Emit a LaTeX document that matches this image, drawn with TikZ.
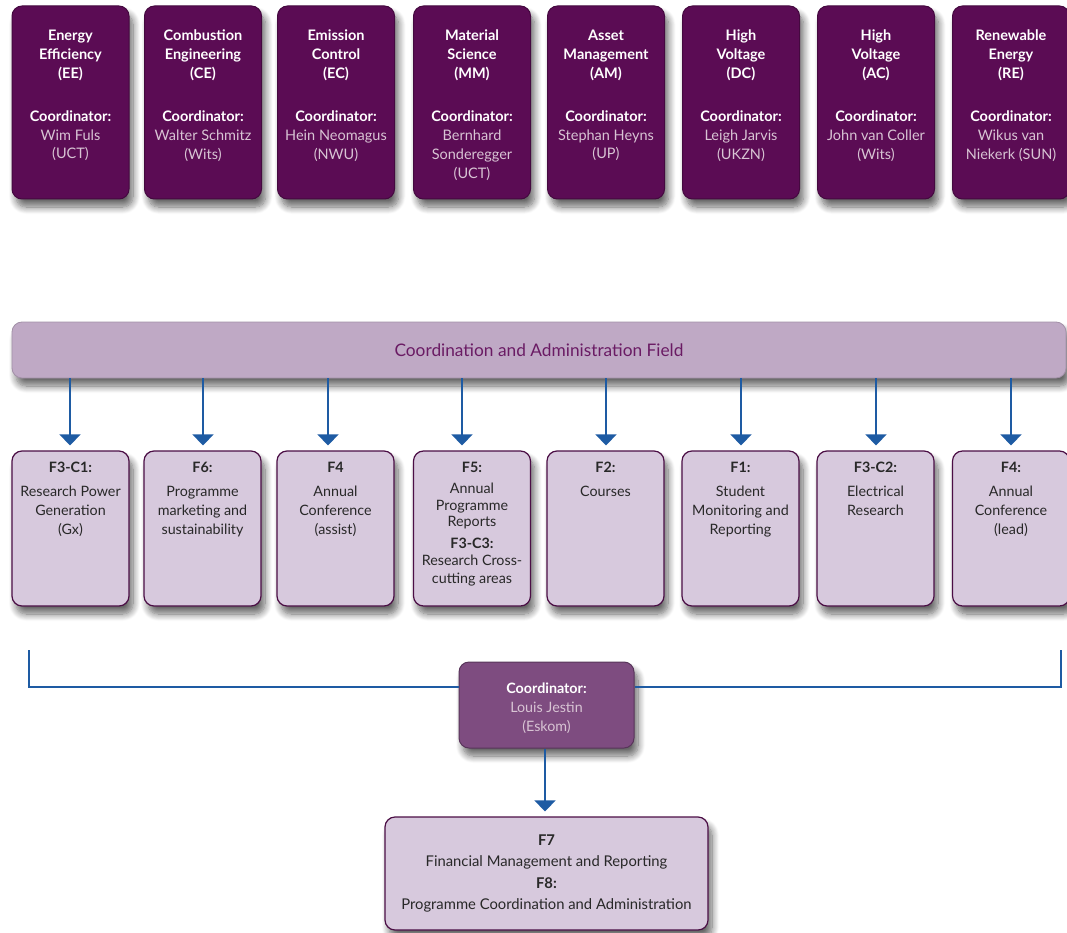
\documentclass[tikz,border=0pt]{standalone}
\usepackage{fontspec}
\setmainfont{Lato}
\usetikzlibrary{arrows.meta,shadows,shadows.blur}
\definecolor{topfill}{RGB}{91,12,84}
\definecolor{topname}{RGB}{216,196,212}
\definecolor{barfill}{RGB}{191,169,197}
\definecolor{midfill}{RGB}{215,201,221}
\definecolor{midborder}{RGB}{75,14,69}
\definecolor{coordfill}{RGB}{126,76,128}
\definecolor{arrowblue}{RGB}{30,91,163}
\definecolor{bartext}{RGB}{106,27,100}
\definecolor{midtext}{RGB}{40,40,40}
\newcommand\tbx[2]{\parbox[c][193pt][t]{117pt}{\vspace*{24pt}\centering\fontsize{14.5}{18.9}\selectfont
  \textbf{\color{white}#1}\\[24pt]\textbf{\color{white}Coordinator:}\\{\color{topname}#2}\par}}
\newcommand\mbx[2][\fontsize{14.3}{19}\selectfont]{\parbox[c][155pt][t]{117pt}{\vspace*{11pt}\centering#1\color{midtext}#2\par}}
\begin{document}
\begin{tikzpicture}[x=1pt,y=-1pt,
  shad/.style={blur shadow={shadow xshift=4pt,shadow yshift=-8pt,shadow blur steps=10,shadow blur radius=7pt,shadow opacity=60}},
  topbox/.style={shad,rounded corners=10pt,fill=topfill,draw=topfill!75!black,line width=1pt,inner sep=0pt,minimum width=117pt,minimum height=193pt},
  midbox/.style={shad,rounded corners=10pt,fill=midfill,draw=midborder,line width=1.2pt,inner sep=0pt,minimum width=117pt,minimum height=155pt},
  barbox/.style={shad,rounded corners=10pt,fill=barfill,draw=barfill!85!black,line width=.8pt,minimum width=1054pt,minimum height=56pt},
  coordbox/.style={shad,rounded corners=10pt,fill=coordfill,draw=coordfill!70!black,line width=1pt,minimum width=175pt,minimum height=86pt,align=center,font=\fontsize{14.3}{19}\selectfont},
  botbox/.style={shad,rounded corners=10pt,fill=midfill,draw=midborder,line width=1.2pt,minimum width=323pt,minimum height=113pt,align=center,font=\fontsize{14.8}{21.5}\selectfont,text=midtext},
  arr/.style={draw=arrowblue,line width=2pt,-{Triangle[width=21pt,length=11pt]},shorten >=5pt},
  link/.style={draw=arrowblue,line width=1.5pt}]
\useasboundingbox (0,0) rectangle (1067,933);
% top row
\node[topbox] (ee) at (70.5,102.5) {\tbx{Energy\\Efficiency\\(EE)}{Wim Fuls\\(UCT)}};
\node[topbox] (ce) at (203,102.5) {\tbx{Combustion\\Engineering\\(CE)}{Walter Schmitz\\(Wits)}};
\node[topbox] (ec) at (336,102.5) {\tbx{Emission\\Control\\(EC)}{Hein Neomagus\\(NWU)}};
\node[topbox] (mm) at (472,102.5) {\tbx{Material\\Science\\(MM)}{Bernhard\\Sonderegger\\(UCT)}};
\node[topbox] (am) at (606,102.5) {\tbx{Asset\\Management\\(AM)}{Stephan Heyns\\(UP)}};
\node[topbox] (dc) at (741,102.5) {\tbx{High\\Voltage\\(DC)}{Leigh Jarvis\\(UKZN)}};
\node[topbox] (ac) at (876,102.5) {\tbx{High\\Voltage\\(AC)}{John van Coller\\(Wits)}};
\node[topbox] (re) at (1011,102.5) {\tbx{Renewable\\Energy\\(RE)}{Wikus van\\Niekerk (SUN)}};
% bar
\node[barbox] (bar) at (539,350) {\fontsize{17.3}{20}\selectfont\color{bartext}Coordination and Administration Field};
% middle row
\node[midbox] (m1) at (70.5,528.5) {\mbx{\textbf{F3-C1:}\\[5pt]Research Power\\Generation\\(Gx)}};
\node[midbox] (m2) at (202.5,528.5) {\mbx{\textbf{F6:}\\[5pt]Programme\\marketing and\\sustainability}};
\node[midbox] (m3) at (335.5,528.5) {\mbx{\textbf{F4}\\[5pt]Annual\\Conference\\(assist)}};
\node[midbox] (m4) at (472,528.5) {\mbx[\fontsize{14.3}{16.5}\selectfont]{\textbf{F5:}\\[5pt]Annual\\Programme\\Reports\\[5.5pt]\textbf{F3-C3:}\\Research Cross-\\[2pt]cutting areas}};
\node[midbox] (m5) at (605.5,528.5) {\mbx{\textbf{F2:}\\[5pt]Courses}};
\node[midbox] (m6) at (740.5,528.5) {\mbx{\textbf{F1:}\\[5pt]Student\\Monitoring and\\Reporting}};
\node[midbox] (m7) at (875.5,528.5) {\mbx{\textbf{F3-C2:}\\[5pt]Electrical\\Research}};
\node[midbox] (m8) at (1011,528.5) {\mbx{\textbf{F4:}\\[5pt]Annual\\Conference\\(lead)}};
% arrows from bar
\coordinate (a1) at ([xshift=-0.5pt]m1.north);
\coordinate (a2) at ([xshift=0.5pt]m2.north);
\coordinate (a3) at ([xshift=-7.5pt]m3.north);
\coordinate (a4) at ([xshift=-10pt]m4.north);
\coordinate (a5) at ([xshift=0.5pt]m5.north);
\coordinate (a6) at ([xshift=0.5pt]m6.north);
\coordinate (a7) at ([xshift=0.5pt]m7.north);
\coordinate (a8) at ([xshift=0pt]m8.north);
\foreach \i in {1,...,8} {\draw[arr] (a\i |- bar.south) -- (a\i);}
% coordinator and bracket
\coordinate (bl) at (29,650);
\coordinate (br) at (1061,650);
\node[coordbox] (lj) at (546.5,705) {\rule{0pt}{18pt}\textbf{\color{white}Coordinator:}\\{\color{topname}Louis Jestin}\\{\color{topname}(Eskom)}};
\draw[link] (bl) |- ([yshift=18pt]lj.west);
\draw[link] (br) |- ([yshift=18pt]lj.east);
\node[botbox] (fin) at (546.5,873.5) {\textbf{F7}\\Financial Management and Reporting\\\textbf{F8:}\\Programme Coordination and Administration};
\draw[arr] ([xshift=-1.5pt]lj.south) -- ([xshift=-1.5pt]fin.north);
\end{tikzpicture}
\end{document}
